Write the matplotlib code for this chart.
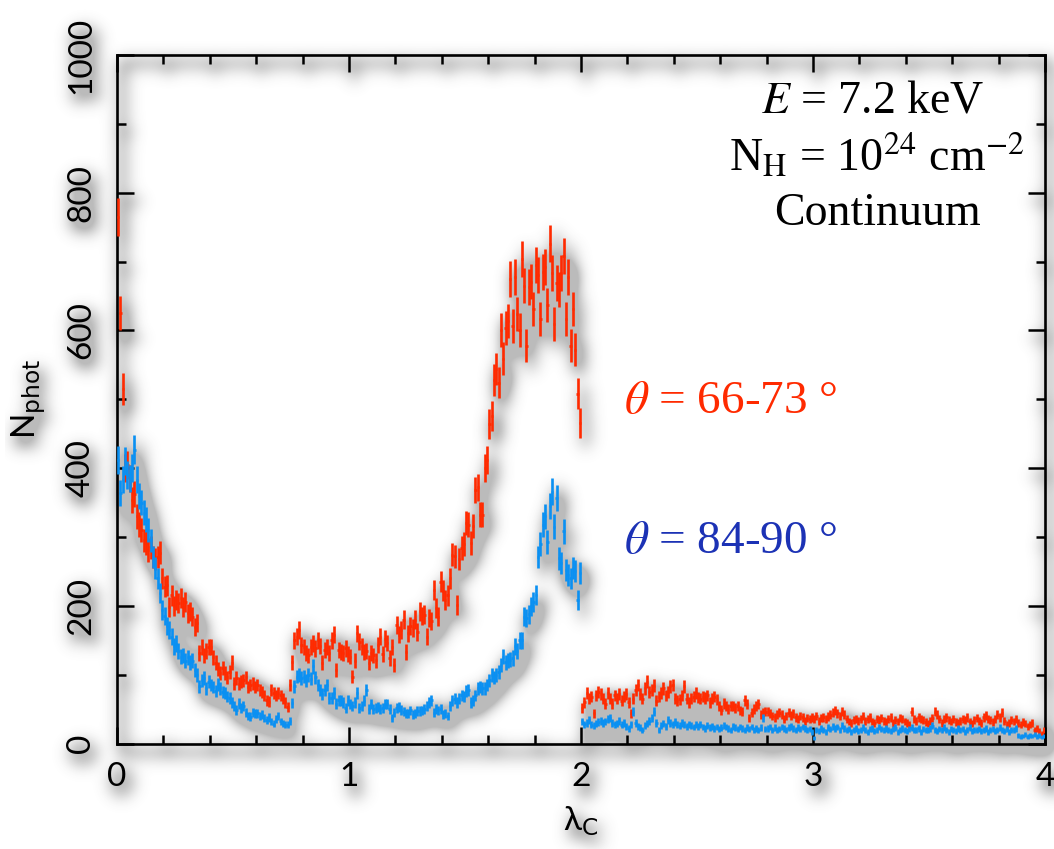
import numpy as np
import matplotlib
matplotlib.use("Agg")
import matplotlib.pyplot as plt
from matplotlib.ticker import MultipleLocator

# ---------------- data (bins of width 0.01 in lambda_C, 0 .. 4) ----------------
bin_width = 0.01
lam_min = 0.0

red_counts = [
    # 0.0 - 1.0
    765, 625, 515, 400, 405, 385, 354, 362, 330, 318,
    310, 295, 291, 281, 285, 271, 268, 271, 277, 240,
    228, 230, 198, 215, 200, 209, 204, 211, 198, 205,
    189, 192, 184, 169, 175, 131, 140, 128, 135, 140,
    140, 125, 117, 108, 102, 110, 102, 96, 104, 117,
    87, 95, 87, 90, 92, 96, 82, 85, 87, 82,
    85, 78, 75, 70, 63, 61, 78, 73, 70, 73,
    70, 65, 60, 53, 85, 118, 150, 155, 165, 143,
    140, 131, 128, 140, 145, 138, 150, 142, 117, 136,
    140, 132, 150, 158, 107, 136, 133, 131, 138, 130,
    # 1.0 - 2.0
    126, 97, 120, 160, 148, 141, 133, 135, 117, 131,
    128, 121, 143, 155, 130, 152, 146, 124, 140, 114,
    172, 158, 165, 180, 133, 160, 170, 168, 180, 162,
    192, 185, 187, 155, 182, 178, 223, 197, 184, 235,
    222, 209, 215, 240, 274, 272, 201, 268, 284, 290,
    320, 318, 291, 316, 368, 372, 332, 332, 400, 412,
    464, 475, 528, 544, 524, 601, 559, 604, 613, 675,
    607, 678, 624, 601, 704, 665, 578, 663, 671, 631,
    695, 680, 617, 685, 692, 637, 726, 683, 610, 669,
    659, 684, 708, 617, 678, 578, 631, 572, 508, 466,
    # 2.0 - 3.0
    51, 60, 73, 65, 68, 44, 70, 75, 72, 65,
    58, 73, 65, 58, 70, 65, 72, 62, 68, 72,
    60, 44, 65, 78, 85, 72, 65, 80, 90, 75,
    78, 84, 62, 68, 73, 80, 70, 75, 83, 85,
    65, 62, 64, 70, 83, 65, 60, 65, 68, 73,
    67, 65, 68, 66, 70, 60, 65, 68, 64, 55,
    49, 58, 55, 50, 55, 54, 52, 55, 48, 46,
    63, 57, 37, 45, 50, 55, 57, 42, 45, 46,
    46, 44, 40, 38, 42, 45, 42, 35, 40, 45,
    41, 43, 38, 36, 40, 38, 33, 37, 35, 38,
    # 3.0 - 4.0
    36, 40, 33, 37, 38, 35, 39, 42, 45, 48,
    44, 40, 46, 42, 35, 32, 30, 34, 36, 33,
    35, 40, 33, 36, 38, 32, 30, 35, 34, 37,
    33, 31, 36, 38, 30, 34, 32, 37, 35, 32,
    30, 28, 46, 35, 33, 38, 36, 34, 31, 29,
    33, 37, 46, 42, 35, 30, 36, 38, 34, 32,
    35, 31, 30, 33, 36, 34, 38, 32, 29, 34,
    37, 33, 30, 38, 41, 36, 34, 31, 35, 42,
    38, 45, 33, 28, 30, 34, 32, 36, 30, 27,
    31, 29, 25, 27, 30, 20, 22, 18, 14, 20,
]

blue_counts = [
    # 0.0 - 1.0
    412, 364, 383, 410, 390, 385, 400, 427, 383, 359,
    350, 335, 325, 310, 295, 271, 255, 240, 219, 194,
    185, 170, 165, 155, 141, 145, 135, 126, 128, 120,
    125, 118, 120, 107, 100, 83, 92, 95, 80, 90,
    85, 82, 76, 86, 80, 75, 73, 68, 66, 60,
    55, 49, 58, 52, 55, 45, 40, 39, 45, 44,
    44, 40, 42, 37, 34, 38, 32, 29, 36, 40,
    32, 29, 27, 27, 33, 59, 83, 97, 100, 95,
    97, 92, 100, 94, 112, 96, 85, 78, 72, 78,
    85, 66, 66, 73, 58, 63, 62, 60, 51, 62,
    # 1.0 - 2.0
    57, 54, 60, 73, 52, 55, 62, 78, 50, 57,
    50, 52, 53, 50, 52, 57, 57, 50, 37, 45,
    52, 53, 49, 46, 44, 44, 48, 42, 44, 47,
    47, 48, 50, 54, 60, 63, 45, 50, 48, 50,
    42, 44, 40, 55, 63, 65, 60, 65, 70, 68,
    76, 78, 60, 62, 70, 80, 82, 80, 80, 85,
    92, 100, 96, 99, 104, 114, 126, 118, 120, 122,
    124, 141, 135, 150, 150, 184, 182, 188, 199, 205,
    216, 271, 290, 318, 330, 293, 345, 366, 315, 356,
    269, 262, 308, 252, 245, 240, 255, 250, 209, 248,
    # 2.0 - 3.0
    32, 28, 30, 34, 27, 26, 29, 31, 33, 30,
    32, 35, 37, 30, 28, 29, 33, 27, 30, 25,
    22, 28, 46, 30, 25, 23, 20, 26, 29, 33,
    37, 46, 30, 20, 26, 29, 25, 34, 30, 28,
    31, 28, 26, 30, 27, 25, 28, 26, 24, 27,
    25, 27, 24, 22, 26, 23, 25, 22, 24, 21,
    23, 26, 24, 22, 20, 25, 23, 21, 24, 22,
    20, 23, 21, 24, 19, 22, 20, 23, 37, 21,
    22, 24, 20, 23, 19, 21, 24, 22, 20, 23,
    25, 22, 20, 23, 21, 24, 22, 19, 21, 17,
    # 3.0 - 4.0
    8, 20, 18, 22, 20, 17, 23, 21, 25, 22,
    24, 20, 26, 22, 19, 21, 17, 20, 22, 18,
    20, 23, 19, 17, 21, 22, 18, 20, 24, 21,
    19, 22, 20, 18, 21, 23, 17, 19, 22, 20,
    18, 21, 23, 19, 20, 22, 17, 21, 19, 20,
    22, 26, 19, 18, 21, 20, 23, 19, 17, 21,
    20, 18, 22, 19, 21, 17, 20, 23, 18, 20,
    19, 21, 18, 20, 22, 17, 19, 21, 18, 20,
    23, 19, 18, 21, 17, 20, 19, 22, 12, 10,
    11, 13, 10, 12, 11, 13, 10, 12, 9, 11,
]

x_ticks = [0, 1, 2, 3, 4]
y_ticks = [0, 200, 400, 600, 800, 1000]
label_red = r"$\theta$ = 66-73 °"
label_blue = r"$\theta$ = 84-90 °"

# ---------------- styling ----------------
RED = "#ff2a00"
BLUE = "#0a90f2"
BLUE_TXT = "#1c32b5"
TICK_FONT = ["Lato", "DejaVu Sans"]

red = np.asarray(red_counts, float)
blue = np.asarray(blue_counts, float)
centers = lam_min + (np.arange(len(red)) + 0.5) * bin_width

fig = plt.figure(figsize=(10.54, 8.49), dpi=100)
fig.patch.set_facecolor("white")
ax = fig.add_axes([117 / 1054, 105.5 / 849, (1045 - 117) / 1054, (743.5 - 55) / 849])
ax.set_facecolor("none")

for vals, col in ((red, RED), (blue, BLUE)):
    ax.errorbar(centers, vals, yerr=np.sqrt(vals), xerr=bin_width / 2,
                fmt="none", ecolor=col, elinewidth=1.9, capsize=0, zorder=3)

ax.set_xlim(0, 4)
ax.set_ylim(0, 1000)
ax.xaxis.set_major_locator(MultipleLocator(1))
ax.xaxis.set_minor_locator(MultipleLocator(0.2))
ax.yaxis.set_major_locator(MultipleLocator(200))
ax.yaxis.set_minor_locator(MultipleLocator(100))
ax.set_xticks(x_ticks)
ax.set_yticks(y_ticks)
ax.set_xticklabels([str(t) for t in x_ticks], family=TICK_FONT, fontsize=24)
ax.set_yticklabels([str(t) for t in y_ticks], family=TICK_FONT, fontsize=24,
                   rotation=90, va="center")
ax.tick_params(which="both", direction="in", top=True, right=True, width=1.8)
ax.tick_params(which="major", length=12.5)
ax.tick_params(which="minor", length=6.5)
ax.tick_params(axis="x", which="major", pad=13)
ax.tick_params(axis="y", which="major", pad=15)
for sp in ax.spines.values():
    sp.set_linewidth(1.9)

ax.set_xlabel("λ$_\\mathrm{C}$", family=TICK_FONT, fontsize=24)
ax.set_ylabel("N$_\\mathrm{phot}$", family=TICK_FONT, fontsize=24)
ax.yaxis.set_label_coords(-0.074, 0.5)
ax.xaxis.set_label_coords(0.5, -0.088)


# ---------------- drop shadow (blurred copy of the rendered ink) ----------------
def gblur(a, s):
    r = int(3 * s)
    k = np.exp(-0.5 * (np.arange(-r, r + 1) / s) ** 2)
    k /= k.sum()
    out = np.zeros_like(a)
    p = np.pad(a, ((r, r), (0, 0)))
    for j, w in enumerate(k):
        out += w * p[j:j + a.shape[0], :]
    p = np.pad(out, ((0, 0), (r, r)))
    out2 = np.zeros_like(a)
    for j, w in enumerate(k):
        out2 += w * p[:, j:j + a.shape[1]]
    return out2


fig.canvas.draw()
buf = np.asarray(fig.canvas.buffer_rgba())[:, :, :3].astype(float) / 255.0
ink = 1.0 - buf.min(axis=2)
sh = gblur(ink, 8.0)
dx, dy = 5, 8
shifted = np.zeros_like(sh)
shifted[dy:, dx:] = sh[:-dy, :-dx]
alpha = np.clip(1.7 * shifted, 0, 0.38)
H, W = alpha.shape
img = np.zeros((H, W, 4))
img[..., :3] = 0.3
img[..., 3] = alpha
fig.figimage(img, 0, 0, origin="upper", zorder=-5)

# ---------------- annotations (no shadow) ----------------
ann = dict(family="Liberation Serif", fontsize=33, math_fontfamily="stix",
           ha="center", va="center")
fig.text(873 / 1054, 1 - 101 / 849, r"$E$ = 7.2 keV", **ann)
fig.text(877 / 1054, 1 - 157 / 849, r"N$_\mathrm{H}$ = 10$^{24}$ cm$^{-2}$", **ann)
fig.text(877 / 1054, 1 - 214 / 849, "Continuum", **ann)
fig.text(624 / 1054, 1 - 402 / 849, label_red, color=RED, family="Liberation Serif",
         fontsize=34, math_fontfamily="stix", ha="left", va="center")
fig.text(624 / 1054, 1 - 542 / 849, label_blue, color=BLUE_TXT, family="Liberation Serif",
         fontsize=34, math_fontfamily="stix", ha="left", va="center")

fig.savefig("out.png", dpi=100)
